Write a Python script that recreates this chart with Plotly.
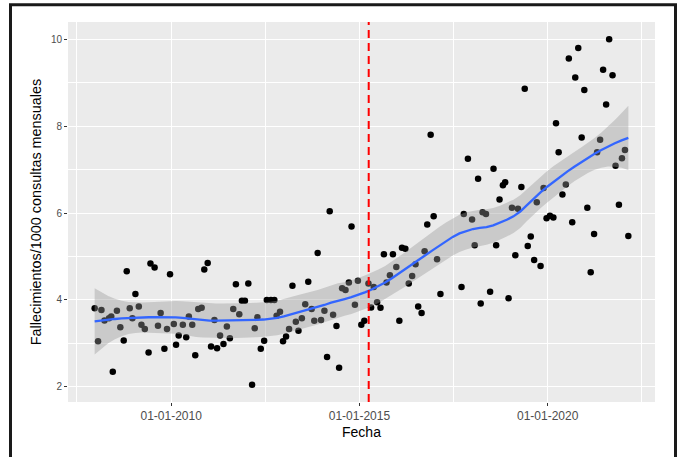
import numpy as np
import pandas as pd
import plotly.graph_objects as go

# ---------------- data ----------------
fecha_decimal = [
    2007.97, 2008.06, 2008.15, 2008.23, 2008.35, 2008.41, 2008.45, 2008.56, 2008.65, 2008.74,
    2008.82, 2008.90, 2008.97, 2009.05, 2009.14, 2009.21, 2009.30, 2009.40, 2009.45, 2009.56,
    2009.65, 2009.72, 2009.82, 2009.89, 2009.97, 2010.07, 2010.13, 2010.20, 2010.31, 2010.40,
    2010.47, 2010.56, 2010.64, 2010.72, 2010.81, 2010.88, 2010.97, 2011.06, 2011.15, 2011.22,
    2011.30, 2011.39, 2011.48, 2011.56, 2011.65, 2011.72, 2011.81, 2011.88, 2011.96, 2012.05,
    2012.15, 2012.22, 2012.29, 2012.38, 2012.47, 2012.54, 2012.65, 2012.74, 2012.80, 2012.89,
    2012.97, 2013.05, 2013.13, 2013.22, 2013.31, 2013.38, 2013.47, 2013.56, 2013.64, 2013.73,
    2013.80, 2013.89, 2013.98, 2014.07, 2014.14, 2014.21, 2014.30, 2014.39, 2014.46, 2014.54,
    2014.63, 2014.72, 2014.79, 2014.88, 2014.96, 2015.05, 2015.13, 2015.24, 2015.31, 2015.38,
    2015.47, 2015.56, 2015.65, 2015.72, 2015.81, 2015.89, 2015.98, 2016.06, 2016.13, 2016.22,
    2016.31, 2016.40, 2016.49, 2016.56, 2016.65, 2016.73, 2016.80, 2016.89, 2016.97, 2017.06,
    2017.15, 2017.71, 2017.77, 2017.88, 2017.99, 2018.06, 2018.15, 2018.22, 2018.27, 2018.36,
    2018.47, 2018.56, 2018.63, 2018.72, 2018.81, 2018.87, 2018.96, 2019.05, 2019.14, 2019.21,
    2019.30, 2019.39, 2019.47, 2019.55, 2019.64, 2019.71, 2019.81, 2019.89, 2019.97, 2020.06,
    2020.15, 2020.22, 2020.29, 2020.39, 2020.48, 2020.56, 2020.65, 2020.73, 2020.81, 2020.90,
    2020.97, 2021.05, 2021.14, 2021.23, 2021.31, 2021.39, 2021.47, 2021.55, 2021.63, 2021.72,
    2021.80, 2021.89, 2021.97, 2022.05, 2022.14,
]
fallecimientos = [
    3.81, 3.05, 3.77, 3.53, 3.58, 3.62, 2.35, 3.75, 3.37, 3.07,
    4.66, 3.81, 3.58, 4.14, 3.85, 3.43, 3.33, 2.79, 4.84, 4.75,
    3.41, 3.70, 2.88, 3.33, 4.59, 3.45, 2.97, 3.18, 3.43, 3.14,
    3.62, 3.43, 2.73, 3.79, 3.82, 4.70, 4.85, 2.93, 3.54, 2.89,
    3.18, 2.99, 3.39, 3.12, 3.79, 4.36, 3.67, 3.98, 3.98, 4.38,
    2.05, 3.35, 3.60, 2.88, 3.06, 4.00, 4.00, 4.00, 3.64, 3.73,
    3.05, 3.16, 3.33, 4.33, 3.50, 3.29, 3.58, 3.90, 4.42, 3.79,
    3.52, 5.08, 3.54, 3.75, 2.69, 6.04, 3.66, 3.40, 2.44, 4.27,
    4.23, 4.40, 5.69, 3.89, 4.44, 3.43, 3.52, 4.38, 3.83, 4.30,
    3.95, 3.82, 5.05, 4.40, 4.57, 5.05, 4.76, 3.52, 5.20, 5.18,
    4.38, 4.55, 4.82, 3.85, 3.70, 5.12, 5.74, 7.80, 5.93, 4.94,
    4.14, 4.30, 5.98, 7.25, 5.85, 5.26, 6.79, 3.92, 6.02, 5.98,
    4.19, 7.02, 5.26, 6.31, 6.64, 6.71, 4.04, 6.12, 5.03, 6.10,
    6.60, 8.86, 5.24, 5.46, 4.92, 6.25, 4.78, 6.58, 5.88, 5.94,
    5.90, 8.07, 7.40, 6.43, 6.66, 9.56, 5.79, 9.12, 9.80, 7.74,
    8.83, 6.12, 4.64, 5.52, 7.40, 7.69, 9.30, 8.50, 10.00, 9.17,
    7.09, 6.19, 7.26, 7.45, 5.47,
]
fecha_corte = "2015-04-01"
x_tick_vals = ["2010-01-01", "2015-01-01", "2020-01-01"]
x_tick_text = ["01-01-2010", "01-01-2015", "01-01-2020"]
y_tick_vals = [2, 4, 6, 8, 10]

titulo_x = "Fecha"
titulo_y = "Fallecimientos/1000 consultas mensuales"


def to_date(d):
    y = int(np.floor(d))
    start = pd.Timestamp(y, 1, 1)
    end = pd.Timestamp(y + 1, 1, 1)
    return start + (end - start) * (d - y)


def loess_matrix(x, xnew, span):
    n = len(x)
    q = int(np.floor(n * span))
    rows = []
    for x0 in xnew:
        d = np.abs(x - x0)
        h = np.sort(d)[q - 1]
        u = d / h
        w = np.where(u < 1, (1 - u ** 3) ** 3, 0.0)
        X = np.column_stack([np.ones(n), x - x0, (x - x0) ** 2])
        XtW = X.T * w
        rows.append(np.linalg.solve(XtW @ X, XtW)[0])
    return np.array(rows)


def loess_fit(x, y, span, ngrid=80):
    xg = np.linspace(x.min(), x.max(), ngrid)
    Ld = loess_matrix(x, x, span)
    IL = np.eye(len(x)) - Ld
    R1 = IL.T @ IL
    d1 = np.trace(R1)
    d2 = np.trace(R1 @ R1)
    res = y - Ld @ y
    sigma = np.sqrt(np.sum(res ** 2) / d1)
    df = d1 ** 2 / d2
    z = 1.959964
    t = z + (z ** 3 + z) / (4 * df) + (5 * z ** 5 + 16 * z ** 3 + 3 * z) / (96 * df ** 2)
    Lg = loess_matrix(x, xg, span)
    fit = Lg @ y
    se = sigma * np.sqrt(np.sum(Lg ** 2, axis=1))
    return xg, fit, fit - t * se, fit + t * se


xd = np.array(fecha_decimal)
yv = np.array(fallecimientos)
fechas = [to_date(d) for d in xd]

SPAN = 0.4
xg, fit, lo, hi = loess_fit(xd, yv, SPAN)
xg_dates = [to_date(d) for d in xg]

fig = go.Figure()
fig.add_trace(go.Scatter(x=fechas, y=yv, mode="markers",
                         marker=dict(color="black", size=6.5, line=dict(width=0)),
                         showlegend=False, hoverinfo="x+y"))
fig.add_trace(go.Scatter(x=xg_dates + xg_dates[::-1], y=list(hi) + list(lo[::-1]),
                         fill="toself", fillcolor="rgba(153,153,153,0.4)",
                         line=dict(width=0), mode="lines", showlegend=False, hoverinfo="skip"))
fig.add_trace(go.Scatter(x=xg_dates, y=fit, mode="lines",
                         line=dict(color="#3366FF", width=2.3), showlegend=False))

fig.add_shape(type="line", x0=fecha_corte, x1=fecha_corte, y0=0, y1=1, yref="paper",
              line=dict(color="#FF0000", width=2, dash="8px,5px"))

xr = xd.max() - xd.min()
yr = yv.max() - yv.min()
x_range = [to_date(xd.min() - 0.05 * xr), to_date(xd.max() + 0.05 * xr)]
y_range = [yv.min() - 0.05 * yr, yv.max() + 0.05 * yr]

L, R, T, B = 68, 26, 22, 55
W, H = 681, 457
pw = W - L - R
ph = H - T - B
fig.add_shape(type="rect", xref="paper", yref="paper",
              x0=(10.5 - L) / pw, x1=(675.5 - L) / pw,
              y0=-0.5, y1=(H - B - 4.7) / ph,
              line=dict(color="#1a1a1a", width=3), layer="above")

font_fam = "Liberation Sans, Arial, sans-serif"
fig.update_layout(
    width=W, height=H,
    margin=dict(l=L, r=R, t=T, b=B, autoexpand=False),
    paper_bgcolor="white", plot_bgcolor="#EBEBEB",
    font=dict(family=font_fam, color="#000000"),
    showlegend=False,
    xaxis=dict(type="date", range=x_range, tickvals=x_tick_vals, ticktext=x_tick_text,
               automargin=False,
               showgrid=True, gridcolor="white", gridwidth=1.4,
               minor=dict(dtick="M30", tick0="2010-01-01", showgrid=True,
                          gridcolor="white", gridwidth=0.6, ticks=""),
               ticks="outside", ticklen=3, tickcolor="#333333", tickwidth=1,
               tickfont=dict(size=12, color="#4D4D4D", family=font_fam),
               zeroline=False, showline=False,
               title=dict(text=titulo_x, font=dict(size=14, color="black"), standoff=4)),
    yaxis=dict(range=y_range, tickvals=y_tick_vals,
               automargin=False,
               showgrid=True, gridcolor="white", gridwidth=1.4,
               minor=dict(dtick=1, tick0=0, showgrid=True, gridcolor="white",
                          gridwidth=0.6, ticks=""),
               ticks="outside", ticklen=3, tickcolor="#333333", tickwidth=1,
               tickfont=dict(size=10, color="#4D4D4D", family=font_fam),
               zeroline=False, showline=False,
               title=dict(text=titulo_y, font=dict(size=14.4, color="black"), standoff=5)),
)

fig.write_html("out.html",
               config={"displayModeBar": False},
               post_script="document.body.style.margin='0';document.body.style.padding='0';")
